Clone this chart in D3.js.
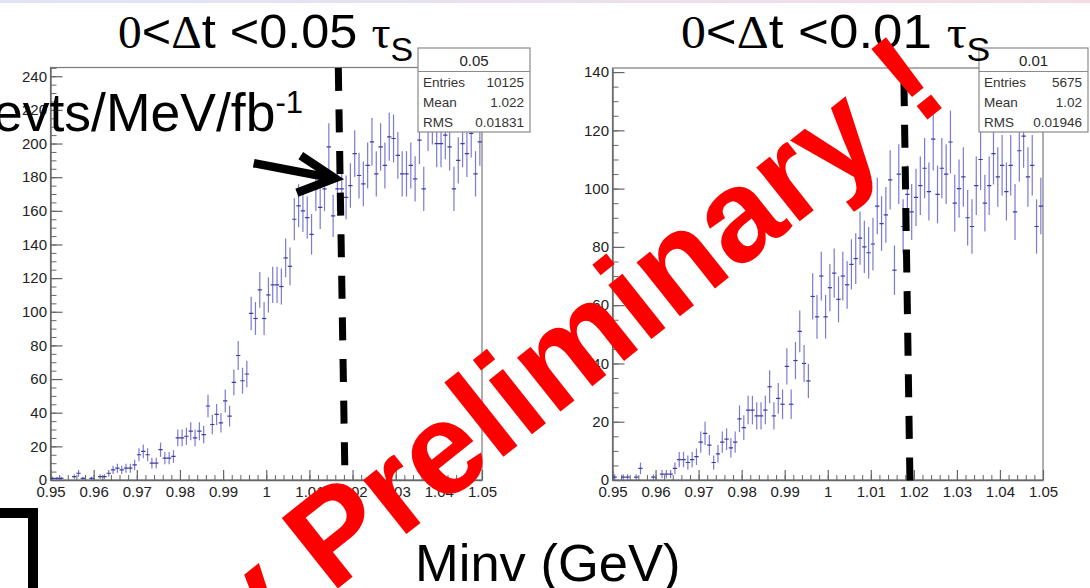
<!DOCTYPE html>
<html>
<head>
<meta charset="utf-8">
<script src="https://cdn.jsdelivr.net/npm/d3@7"></script>
<style>
  html, body { margin: 0; padding: 0; background: #fff; }
  svg { display: block; font-family: "Liberation Sans", Arial, Helvetica, sans-serif; }
  text { white-space: pre; }
</style>
</head>
<body>
<svg id="chart" width="1090" height="588"></svg>
<script>
// ---- data -------------------------------------------------------------
// Invariant mass histograms, 100 bins of 1 MeV between 0.95 and 1.05 GeV
const massRange = [0.95, 1.05];
const binWidth = 0.001;

// 0 < Δt < 0.05 τS
const countsWide = [
  1, 1, 1, 0, 0, 2, 4, 1, 0, 1,
  0, 2, 2, 4, 6, 7, 6, 7, 7, 9,
  15, 17, 15, 10, 10, 18, 13, 13, 14, 25,
  25, 26, 29, 25, 29, 27, 44, 33, 39, 34,
  47, 38, 58, 74, 59, 63, 99, 96, 113, 96,
  110, 116, 116, 115, 132, 127, 155, 163, 160, 156,
  146, 173, 162, 173, 198, 157, 173, 173, 168, 175,
  194, 181, 176, 187, 201, 182, 198, 187, 204, 203,
  193, 182, 182, 187, 179, 202, 173, 210, 214, 200,
  200, 205, 198, 173, 190, 200, 194, 206, 182, 201
];

// 0 < Δt < 0.01 τS
const countsNarrow = [
  1, 0, 1, 1, 0, 1, 4, 0, 0, 1,
  0, 2, 2, 2, 4, 7, 7, 6, 7, 8,
  13, 16, 12, 6, 9, 13, 14, 11, 13, 21,
  18, 24, 24, 22, 22, 24, 32, 22, 28, 26,
  39, 26, 41, 51, 40, 34, 63, 56, 70, 56,
  66, 71, 62, 70, 67, 74, 76, 83, 80, 78,
  81, 94, 88, 91, 103, 72, 105, 87, 98, 92,
  97, 101, 107, 99, 117, 98, 107, 105, 116, 95,
  100, 104, 90, 87, 101, 110, 95, 101, 112, 104,
  108, 99, 108, 92, 113, 118, 104, 108, 87, 94
];

const xTickValues = [0.95, 0.96, 0.97, 0.98, 0.99, 1.00, 1.01, 1.02, 1.03, 1.04, 1.05];
const xTickLabels = ["0.95", "0.96", "0.97", "0.98", "0.99", "1", "1.01", "1.02", "1.03", "1.04", "1.05"];
const yTicksWide = [0, 20, 40, 60, 80, 100, 120, 140, 160, 180, 200, 220, 240];
const yTicksNarrow = [0, 20, 40, 60, 80, 100, 120, 140];

const statsWide = [["Entries", "10125"], ["Mean", "1.022"], ["RMS", "0.01831"]];
const statsNarrow = [["Entries", "5675"], ["Mean", "1.02"], ["RMS", "0.01946"]];
const histNames = ["0.05", "0.01"];
const cutValues = ["0.05", "0.01"];

// ---- layout -----------------------------------------------------------
const svg = d3.select("#chart");
const dataColor = "#6464cc";
const frameColor = "#7a7a7a";
const serif = "'Liberation Serif', 'Times New Roman', serif";

// thin header band along the top edge
const grad = svg.append("defs").append("linearGradient").attr("id", "band");
grad.append("stop").attr("offset", "0%").attr("stop-color", "#dfe5f6");
grad.append("stop").attr("offset", "100%").attr("stop-color", "#f4dde5");
svg.append("rect").attr("x", 0).attr("y", 0).attr("width", 1090).attr("height", 3).attr("fill", "url(#band)");

const panels = [
  { counts: countsWide, yMax: 245.2, yTicks: yTicksWide, stats: statsWide, name: histNames[0], cut: cutValues[0],
    box: { left: 50.5, right: 482, top: 67.5, bottom: 480 },
    statsBox: { x0: 418, x1: 530, y0: 48, y1: 132 },
    titleX: 118, titleStretch: 1.03,
    cutLine: [[1.0167, 245], [1.0182, 7.5]] },
  { counts: countsNarrow, yMax: 141.4, yTicks: yTicksNarrow, stats: statsNarrow, name: histNames[1], cut: cutValues[1],
    box: { left: 612.5, right: 1043, top: 68, bottom: 480 },
    statsBox: { x0: 979, x1: 1088, y0: 48, y1: 132 },
    titleX: 681, titleStretch: 1.08,
    cutLine: [[1.0177, 136.2], [1.0191, -1.0]] }
];

panels.forEach((p, k) => {
  const b = p.box;
  const x = d3.scaleLinear().domain(massRange).range([b.left, b.right]);
  const y = d3.scaleLinear().domain([0, p.yMax]).range([b.bottom, b.top]);
  p.x = x; p.y = y;

  const g = svg.append("g");
  const clipId = "clip" + k;
  svg.append("clipPath").attr("id", clipId).append("rect")
    .attr("x", b.left).attr("y", b.top).attr("width", b.right - b.left).attr("height", b.bottom - b.top);

  // frame
  g.append("rect").attr("x", b.left).attr("y", b.top)
    .attr("width", b.right - b.left).attr("height", b.bottom - b.top)
    .attr("fill", "none").attr("stroke", frameColor).attr("stroke-width", 1.2);

  // y axis: major ticks every 20, minor every 5, pointing into the frame
  const yMinor = d3.range(0, p.yMax, 5);
  g.append("g").attr("transform", `translate(${b.left},0)`)
    .call(d3.axisLeft(y).tickValues(yMinor).tickSize(-6).tickSizeOuter(0).tickFormat(""))
    .call(s => s.select(".domain").remove())
    .call(s => s.selectAll("line").attr("stroke", "#666"));
  g.append("g").attr("transform", `translate(${b.left},0)`)
    .call(d3.axisLeft(y).tickValues(p.yTicks).tickSize(-12).tickSizeOuter(0).tickPadding(3.5))
    .call(s => s.select(".domain").attr("stroke", "#666").attr("stroke-width", 1.4))
    .call(s => s.selectAll("line").attr("stroke", "#666").attr("stroke-width", 1.2))
    .call(s => s.selectAll("text").attr("font-size", 15).attr("fill", "#222")
      .attr("font-family", "'Liberation Sans', Arial, sans-serif"));

  // x axis: labels every 0.01, minor ticks every 0.002
  const xMinor = d3.range(0, 51).map(i => 0.95 + i * 0.002);
  g.append("g").attr("transform", `translate(0,${b.bottom})`)
    .call(d3.axisBottom(x).tickValues(xMinor).tickSize(-5).tickSizeOuter(0).tickFormat(""))
    .call(s => s.select(".domain").remove())
    .call(s => s.selectAll("line").attr("stroke", "#666"));
  g.append("g").attr("transform", `translate(0,${b.bottom})`)
    .call(d3.axisBottom(x).tickValues(xTickValues).tickSize(-10).tickSizeOuter(0).tickPadding(6.5)
      .tickFormat((d, i) => xTickLabels[i]))
    .call(s => s.select(".domain").attr("stroke", "#666").attr("stroke-width", 1.4))
    .call(s => s.selectAll("line").attr("stroke", "#666").attr("stroke-width", 1.2))
    .call(s => s.selectAll("text").attr("font-size", 15).attr("fill", "#222")
      .attr("font-family", "'Liberation Sans', Arial, sans-serif"));

  // histogram points with Poisson error bars
  const bins = p.counts.map((v, i) => ({ c: massRange[0] + (i + 0.5) * binWidth, v, e: Math.sqrt(v) }))
    .filter(d => d.v > 0);
  const pts = g.append("g").attr("clip-path", `url(#${clipId})`);
  pts.selectAll("line.err").data(bins).join("line").attr("class", "err")
    .attr("x1", d => x(d.c)).attr("x2", d => x(d.c))
    .attr("y1", d => y(d.v - d.e)).attr("y2", d => y(d.v + d.e))
    .attr("stroke", dataColor).attr("stroke-width", 1.2).attr("opacity", 0.85);
  pts.selectAll("line.bin").data(bins).join("line").attr("class", "bin")
    .attr("x1", d => x(d.c - binWidth / 2)).attr("x2", d => x(d.c + binWidth / 2))
    .attr("y1", d => y(d.v)).attr("y2", d => y(d.v))
    .attr("stroke", "#3c3ca0").attr("stroke-width", 1.2);

  // statistics box
  const sb = p.statsBox;
  const st = svg.append("g");
  st.append("rect").attr("x", sb.x0).attr("y", sb.y0).attr("width", sb.x1 - sb.x0).attr("height", sb.y1 - sb.y0)
    .attr("fill", "#fff").attr("stroke", "#8a8a8a").attr("stroke-width", 1.2);
  st.append("line").attr("x1", sb.x0).attr("x2", sb.x1).attr("y1", 71.5).attr("y2", 71.5)
    .attr("stroke", "#8a8a8a").attr("stroke-width", 1.2);
  st.append("text").attr("x", (sb.x0 + sb.x1) / 2).attr("y", 66).attr("text-anchor", "middle")
    .attr("font-size", 15).attr("fill", "#222").text(p.name);
  const rowY = [86.5, 106.5, 127];
  p.stats.forEach((r, i) => {
    st.append("text").attr("x", sb.x0 + 5).attr("y", rowY[i]).attr("font-size", 13.5).attr("fill", "#333").text(r[0]);
    st.append("text").attr("x", sb.x1 - 6).attr("y", rowY[i]).attr("font-size", 13.5).attr("fill", "#333")
      .attr("text-anchor", "end").text(r[1]);
  });

  // panel title: 0<Δt <cut τS (drawn over the stats box corner)
  const t = svg.append("text").attr("transform", `translate(${p.titleX},48) scale(${p.titleStretch},1)`)
    .attr("font-size", 49).attr("fill", "#000");
  t.append("tspan").attr("font-family", serif).attr("font-size", 46).text("0");
  t.append("tspan").text("<");
  t.append("tspan").attr("font-family", serif).attr("font-size", 46).text("Δ");
  t.append("tspan").text(`t <${p.cut} `);
  t.append("tspan").attr("font-family", serif).attr("font-size", 46).text("τ");
  t.append("tspan").attr("font-size", 33).attr("dy", 13).text("S");

  // dashed line at the φ mass
  svg.append("line")
    .attr("x1", x(p.cutLine[0][0])).attr("y1", y(p.cutLine[0][1]))
    .attr("x2", x(p.cutLine[1][0])).attr("y2", y(p.cutLine[1][1]))
    .attr("stroke", "#000").attr("stroke-width", 7).attr("stroke-dasharray", "23 18.6");
});

// arrow pointing at the plateau of the first histogram
const pw = panels[0];
const arrow = svg.append("g").attr("stroke", "#000").attr("stroke-width", 8.5).attr("fill", "none")
  .attr("stroke-linecap", "butt");
const tip = [pw.x(1.0159), pw.y(179.4)];
arrow.append("line").attr("x1", pw.x(0.9971)).attr("y1", pw.y(188.3)).attr("x2", tip[0] - 3).attr("y2", tip[1]);
arrow.append("polyline").attr("stroke-linejoin", "miter")
  .attr("points", [[pw.x(1.0080), pw.y(192.8)], tip, [pw.x(1.0071), pw.y(170.8)]].map(d => d.join(",")).join(" "));

// y axis quantity
const yl = svg.append("text").attr("x", -7).attr("y", 131).attr("font-size", 53.5).attr("fill", "#000");
yl.append("tspan").text("evts/MeV/fb");
yl.append("tspan").attr("font-size", 31).attr("dy", -18).text("-1");

// x axis quantity
svg.append("text").attr("x", 415).attr("y", 581).attr("font-size", 52.5).attr("fill", "#000").text("Minv (GeV)");

// bracket in the lower left corner
svg.append("path").attr("d", "M0,513 H33 V588").attr("fill", "none").attr("stroke", "#000").attr("stroke-width", 10);

// stamp across both panels
svg.append("text")
  .attr("transform", "translate(952,100) rotate(-38.5)")
  .attr("text-anchor", "end")
  .attr("font-size", 131).attr("font-weight", "bold").attr("fill", "#ff0000")
  .text("Very Preliminary !");
</script>
</body>
</html>
